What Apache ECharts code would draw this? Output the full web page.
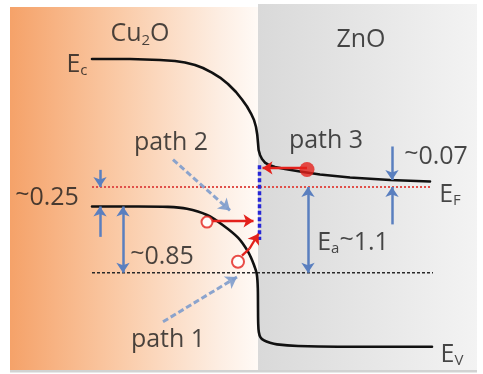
<!DOCTYPE html>
<html>
<head>
<meta charset="utf-8">
<script src="https://cdn.jsdelivr.net/npm/echarts@6/dist/echarts.min.js"></script>
<style>
  html, body { margin: 0; padding: 0; background: #ffffff; }
  #chart { width: 483px; height: 374px; }
</style>
</head>
<body>
<div id="chart"></div>
<script>
// Position across the heterojunction (a.u., Cu2O | ZnO interface at 0)
// and band energies (eV, relative to the Fermi level E_F = 0).

// Conduction band edge, Cu2O -> ZnO
const ecPos    = [-16.6, -12.8, -9.8, -8.3, -7.3, -6.3, -5.5, -4.6, -3.8, -3.0, -2.2, -1.6, -1.1, -0.7, -0.4, -0.2, -0.07, 0, 0.06, 0.2, 0.4, 0.7, 1.1, 1.7, 2.7, 4.2, 6.2, 9.2, 13.2, 17.2];
const ecEnergy = [1.643, 1.643, 1.630, 1.617, 1.598, 1.566, 1.527, 1.469, 1.405, 1.322, 1.219, 1.123, 1.033, 0.943, 0.860, 0.770, 0.667, 0.565, 0.475, 0.411, 0.359, 0.314, 0.282, 0.257, 0.231, 0.199, 0.160, 0.122, 0.090, 0.07];

// Valence band edge, Cu2O -> ZnO
const evPos    = [-16.6, -12, -9, -7.1, -5.1, -3.5, -2.0, -1.0, -0.4, -0.12, -0.02, 0, 0.02, 0.08, 0.25, 0.6, 1.2, 1.9, 4, 8, 17.4];
const evEnergy = [-0.25, -0.25, -0.255, -0.28, -0.36, -0.49, -0.65, -0.83, -1.0, -1.12, -1.3, -1.55, -1.75, -1.86, -1.93, -1.97, -2.0, -2.02, -2.04, -2.05, -2.05];

// Flat levels and their horizontal extent
const fermiLevel = 0;
const trapLevel = -1.1;          // E_a ~ 1.1 below E_F
const cu2oValence = -0.25;       // ~0.25 below E_F
const znoConduction = 0.07;      // ~0.07 above E_F
const levelStart = -16.6;
const levelEnd = 17.3;

// Interface states
const interfacePos = 0.15;
const interfaceTop = 0.28;
const interfaceBottom = -0.68;

// Material regions
const cu2oRegion = [-24.8, 0];
const znoRegion = [0, 21.9];
const regionTop = 2.31;
const regionBottom = -2.35;

// Energy-gap markers: [position, from, to]
const gapMarkers = [
  [-15.8, 0.22, fermiLevel],
  [-15.8, -0.64, cu2oValence],
  [13.4, 0.52, 0.09],
  [13.4, -0.48, fermiLevel]
];
const doubleMarkers = [
  [-13.5, cu2oValence, trapLevel],
  [5.0, fermiLevel, trapLevel]
];

// Carrier paths
const path1Pointer = [[-9.5, -1.73], [-2.1, -1.155]];
const path2Pointer = [[-8.5, 0.35], [-2.8, -0.30]];
const path3Electron = [4.9, 0.225];
const path3Arrow = [[4.9, 0.245], [0.45, 0.245]];
const path2Hole = [-5.1, -0.45];
const path2Arrow = [[-4.65, -0.435], [-0.45, -0.435]];
const path1Hole = [-2.0, -0.96];
const path1Tail = [[-1.6, -0.88], [-0.85, -0.79]];
const path1Arrow = [[-0.85, -0.79], [0.05, -0.6]];

// Text annotations
const labelText = ['Cu{s|2}O', 'ZnO', 'E{s|c}', 'path 2', 'path 3', '{t|~}0.07', '{t|~}0.25', 'E{s|F}', '{t|~}0.85', 'E{s|a}{t|~}1.1', 'path 1', 'E{s|V}'];
const labelPos  = [[-11.8, 1.96], [10.3, 1.89], [-18.1, 1.57], [-8.7, 0.565], [6.8, 0.59], [17.8, 0.385], [-21.1, -0.14], [19.2, -0.1], [-9.6, -0.90], [9.5, -0.72], [-9.0, -1.96], [19.4, -2.15]];

const FONT = '"Open Sans", "Liberation Sans", sans-serif';
const TEXT = '#1c1c1c';
const ARROW_BLUE = '#5a7fbf';
const RED = '#e3211c';

const zip = (xs, ys) => xs.map((x, i) => [x, ys[i]]);

const chart = echarts.init(document.getElementById('chart'), null, { renderer: 'canvas' });

const option = {
  animation: false,
  grid: { left: 0, right: 0, top: 0, bottom: 0 },
  xAxis: { type: 'value', min: -25.8, max: 22.5, show: false },
  yAxis: { type: 'value', min: -2.4, max: 2.4, show: false },
  series: [
    {
      // material regions
      type: 'line', data: [], z: 0, silent: true,
      markArea: {
        silent: true,
        data: [
          [
            { xAxis: cu2oRegion[0], yAxis: regionTop,
              itemStyle: { color: new echarts.graphic.LinearGradient(0, 0, 1, 0, [
                { offset: 0, color: '#f5a269' },
                { offset: 0.45, color: '#facba8' },
                { offset: 0.85, color: '#fdeee3' },
                { offset: 1, color: '#fffaf6' }
              ]) } },
            { xAxis: cu2oRegion[1], yAxis: regionBottom }
          ],
          [
            { xAxis: znoRegion[0], yAxis: regionTop + 0.04,
              itemStyle: { color: new echarts.graphic.LinearGradient(0, 0, 1, 0, [
                { offset: 0, color: '#d9d9d9' },
                { offset: 0.5, color: '#e6e6e6' },
                { offset: 1, color: '#f3f3f3' }
              ]) } },
            { xAxis: znoRegion[1], yAxis: regionBottom }
          ],
          [
            { xAxis: cu2oRegion[0], yAxis: regionBottom, itemStyle: { color: '#d2d2d2' } },
            { xAxis: znoRegion[1], yAxis: regionBottom - 0.03 }
          ]
        ]
      }
    },
    {
      // Fermi level
      type: 'line', symbol: 'none', z: 3,
      data: [[levelStart, fermiLevel], [levelEnd, fermiLevel]],
      lineStyle: { color: '#e0504a', width: 2, type: [2, 2] }
    },
    {
      // deep level
      type: 'line', symbol: 'none', z: 3,
      data: [[levelStart, trapLevel], [levelEnd + 0.2, trapLevel]],
      lineStyle: { color: '#2a2a2a', width: 1.5, type: [3, 2] }
    },
    {
      // conduction band
      type: 'line', symbol: 'none', smooth: false, z: 4,
      data: zip(ecPos, ecEnergy),
      lineStyle: { color: '#111111', width: 2.6, join: 'round', cap: 'round' }
    },
    {
      // valence band
      type: 'line', symbol: 'none', smooth: 0.3, z: 4,
      data: zip(evPos, evEnergy),
      lineStyle: { color: '#111111', width: 2.6, cap: 'round' }
    },
    {
      // interface states
      type: 'line', symbol: 'none', z: 5,
      data: [[interfacePos, interfaceTop], [interfacePos, interfaceBottom]],
      lineStyle: { color: '#2626d6', width: 3.5, type: [4, 2.5] }
    },
    {
      // single-headed gap markers
      type: 'lines', coordinateSystem: 'cartesian2d', z: 6,
      symbol: ['none', 'arrow'], symbolSize: 10,
      lineStyle: { color: ARROW_BLUE, width: 2.5, opacity: 1 },
      data: gapMarkers.map(m => ({ coords: [[m[0], m[1]], [m[0], m[2]]] }))
    },
    {
      // double-headed gap markers
      type: 'lines', coordinateSystem: 'cartesian2d', z: 6,
      symbol: ['arrow', 'arrow'], symbolSize: 10,
      lineStyle: { color: ARROW_BLUE, width: 2.5, opacity: 1 },
      data: doubleMarkers.map(m => ({ coords: [[m[0], m[1]], [m[0], m[2]]] }))
    },
    {
      // dashed pointers from the path captions
      type: 'lines', coordinateSystem: 'cartesian2d', z: 6,
      symbol: ['none', 'arrow'], symbolSize: 11,
      lineStyle: { color: '#7e9ccc', width: 3, type: [6, 3], opacity: 0.9 },
      data: [{ coords: path2Pointer }, { coords: path1Pointer }]
    },
    {
      // carrier transfer arrows
      type: 'lines', coordinateSystem: 'cartesian2d', z: 7,
      symbol: ['none', 'arrow'], symbolSize: 10,
      lineStyle: { color: RED, width: 2.3, opacity: 1 },
      data: [{ coords: path3Arrow }, { coords: path2Arrow }, { coords: path1Arrow }]
    },
    {
      type: 'lines', coordinateSystem: 'cartesian2d', z: 7,
      symbol: ['none', 'none'],
      lineStyle: { color: RED, width: 2.3, opacity: 1 },
      data: [{ coords: path1Tail }]
    },
    {
      // electron (filled) and holes (loops)
      type: 'scatter', z: 8,
      data: [
        { value: path3Electron, symbol: 'circle', symbolSize: 15, itemStyle: { color: RED } },
        { value: path2Hole, symbol: 'emptyCircle', symbolSize: 11, itemStyle: { color: RED, borderWidth: 2.2 } },
        { value: path1Hole, symbol: 'emptyCircle', symbolSize: 12, itemStyle: { color: RED, borderWidth: 2.2 } }
      ]
    },
    {
      // annotations
      type: 'scatter', z: 9, symbol: 'circle', symbolSize: 1,
      itemStyle: { color: 'rgba(0,0,0,0)' },
      data: labelPos.map((p, i) => ({ value: p, name: labelText[i] })),
      label: {
        show: true,
        position: 'inside',
        formatter: p => p.name,
        color: TEXT,
        fontFamily: FONT,
        fontSize: 25,
        rich: {
          s: { fontFamily: FONT, fontSize: 15, color: TEXT, padding: [12, 0, 0, 0] },
          t: { fontFamily: FONT, fontSize: 25, color: TEXT, padding: [0, 0, 7, 0] }
        }
      }
    }
  ]
};

chart.setOption(option);
</script>
</body>
</html>
